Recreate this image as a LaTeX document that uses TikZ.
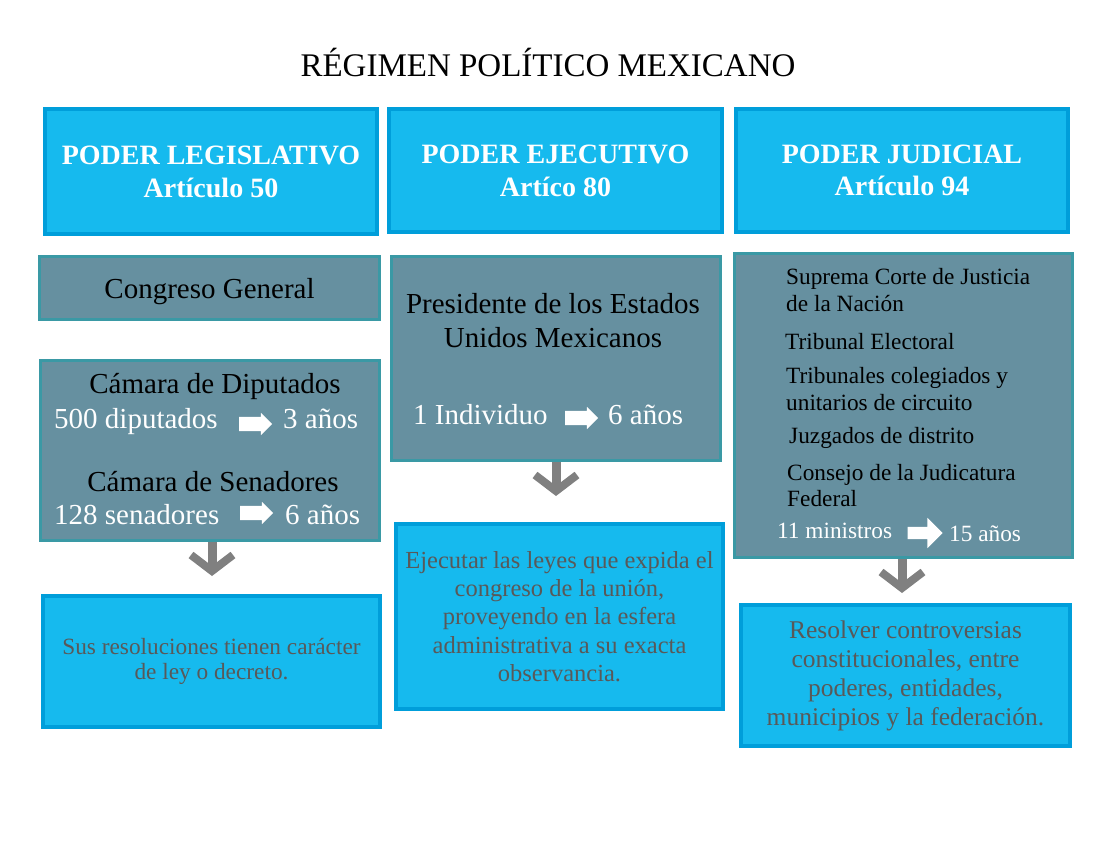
\documentclass[tikz,border=0pt]{standalone}
\usepackage{fontspec}
\setmainfont{Liberation Serif}
\usetikzlibrary{arrows.meta,shapes.arrows}
\definecolor{hdrCyan}{RGB}{22,186,238}
\definecolor{hdrEdge}{RGB}{0,158,218}
\definecolor{slateG}{RGB}{102,144,160}
\definecolor{slateEdge}{RGB}{58,153,165}
\definecolor{arrGray}{RGB}{128,128,128}
\definecolor{noteTxt}{RGB}{89,89,89}

\begin{document}
\begin{tikzpicture}[x=1pt, y=-1pt,
  ttl/.style={font=\fontsize{33}{38}\selectfont, inner sep=0pt},
  hdr/.style={draw=hdrEdge, line width=4pt, fill=hdrCyan, text=white, align=center, inner sep=0pt, font=\fontsize{28}{32.5}\selectfont\bfseries},
  slate/.style={draw=slateEdge, line width=3pt, fill=slateG, inner sep=0pt, font=\fontsize{29}{34}\selectfont},
  note/.style={draw=hdrEdge, line width=4pt, fill=hdrCyan, text=noteTxt, align=center, inner sep=0pt},
  big/.style={font=\fontsize{29}{34}\selectfont, inner sep=0pt},
  bigw/.style={big, text=white},
  sm/.style={font=\fontsize{23.3}{26}\selectfont, inner sep=0pt, anchor=base west},
  smw/.style={sm, text=white},
  blk/.style={single arrow, fill=white, draw=none, minimum height=33pt, inner sep=7pt, single arrow head extend=4pt},
  dn/.style={draw=arrGray, line width=9pt, -{Straight Barb[length=16pt,width=42pt,line width=8pt]}}
]
  \useasboundingbox (0,0) rectangle (1100,850);

  % title
  \node[ttl, anchor=base] (title) at (548,77) {RÉGIMEN POLÍTICO MEXICANO};

  % headers (one per column)
  \node[hdr, minimum width=332pt, minimum height=125pt] (leg) at (211,172) {PODER LEGISLATIVO\\Artículo 50};
  \node[hdr, minimum width=333pt, minimum height=123pt] (eje) at (555.5,171) {PODER EJECUTIVO\\Artíco 80};
  \node[hdr, minimum width=332pt, minimum height=123pt] (jud) at (902,170.5) {PODER JUDICIAL\\Artículo 94};

  % legislativo (left column)
  \node[slate, minimum width=340pt, minimum height=63pt, text depth=0pt] (cong) at (209.5,288) {Congreso General};
  \node[slate, minimum width=339pt, minimum height=180pt] (cam) at (210,450.5) {};
  \node[big, anchor=base] (dip) at (215,393) {Cámara de Diputados};
  \node[bigw, anchor=base west] (ndip) at (54,428) {500 diputados};
  \node[blk] (adip) at (252,424) {};
  \node[bigw, anchor=base west] (tdip) at (283,428) {3 años};
  \node[big, anchor=base] (sen) at (213,491) {Cámara de Senadores};
  \node[bigw, anchor=base west] (nsen) at (54,524) {128 senadores};
  \node[blk] (asen) at (253,513) {};
  \node[bigw, anchor=base west] (tsen) at (285,524) {6 años};
  \node[note, minimum width=337pt, minimum height=131pt, font=\fontsize{23.3}{25}\selectfont] (res) at (211.5,661.5)
    {Sus resoluciones tienen carácter\\de ley o decreto.};

  % ejecutivo (middle column)
  \node[slate, minimum width=329pt, minimum height=204pt] (pres) at (556,358.5) {};
  \node[big, anchor=base] (pres1) at (553,313) {Presidente de los Estados};
  \node[big, anchor=base] (pres2) at (553,347) {Unidos Mexicanos};
  \node[bigw, anchor=base west] (ind) at (413,424) {1 Individuo};
  \node[blk] (aind) at (578,418) {};
  \node[bigw, anchor=base west] (tind) at (608,424) {6 años};
  \node[note, minimum width=327pt, minimum height=185pt, font=\fontsize{24.5}{28.3}\selectfont] (ejec) at (559.5,616.5)
    {Ejecutar las leyes que expida el\\congreso de la unión,\\proveyendo en la esfera\\administrativa a su exacta\\observancia.};

  % judicial (right column)
  \node[slate, minimum width=338pt, minimum height=304pt] (corte) at (903.5,405.5) {};
  \node[sm] (scj1) at (786,285) {Suprema Corte de Justicia};
  \node[sm] (scj2) at (786,312) {de la Nación};
  \node[sm] (tel) at (785,349) {Tribunal Electoral};
  \node[sm] (tcu1) at (786,383) {Tribunales colegiados y};
  \node[sm] (tcu2) at (786,410) {unitarios de circuito};
  \node[sm] (juz) at (789,443) {Juzgados de distrito};
  \node[sm] (cjf1) at (787,480) {Consejo de la Judicatura};
  \node[sm] (cjf2) at (787,506) {Federal};
  \node[smw] (min) at (777,538) {11 ministros};
  \node[blk, minimum height=35pt, inner sep=6pt, single arrow head extend=9pt] (amin) at (922,533) {};
  \node[smw] (tmin) at (949,541) {15 años};
  \node[note, minimum width=329pt, minimum height=141pt, font=\fontsize{25.5}{29}\selectfont] (contr) at (905.5,675.5)
    {Resolver controversias\\constitucionales, entre\\poderes, entidades,\\municipios y la federación.};

  % down arrows
  \coordinate (e1) at (212,576);
  \coordinate (e2) at (556,496);
  \coordinate (e3) at (902,593);
  \draw[dn] (e1 |- cam.south) -- (e1);
  \draw[dn] (e2 |- pres.south) -- (e2);
  \draw[dn] (e3 |- corte.south) -- (e3);
\end{tikzpicture}
\end{document}
